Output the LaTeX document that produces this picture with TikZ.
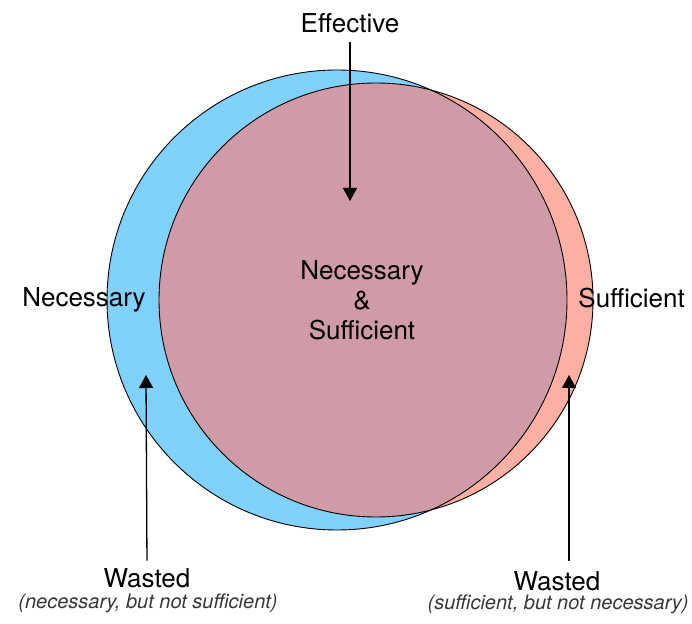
\documentclass[tikz,border=0pt]{standalone}
\usepackage{fontspec}
\setmainfont{TeX Gyre Heros}
\usetikzlibrary{arrows.meta, positioning}
\definecolor{needblue}{RGB}{129, 209, 253}
\definecolor{suffred}{RGB}{254, 176, 164}
\definecolor{bothmauve}{RGB}{207, 155, 167}
\definecolor{notegray}{RGB}{55, 55, 55}

\begin{document}
\begin{tikzpicture}[x=1pt, y=1pt, line width=0.9pt,
  label/.style={font=\fontsize{26}{30}\selectfont, inner sep=0pt},
  note/.style={font=\fontsize{20}{23}\selectfont\itshape, text=notegray, inner sep=0pt},
  pointer/.style={-{Triangle[length=13pt, width=14pt]}, line width=1.3pt}]
  \useasboundingbox (0, 0) rectangle (692, 623);

  % the two sets
  \coordinate (needc) at (337, 323);
  \coordinate (suffc) at (376, 323);
  \fill[needblue] (needc) circle [radius=230];
  \fill[suffred] (suffc) circle [radius=217];
  \begin{scope}
    \clip (needc) circle [radius=230];
    \fill[bothmauve] (suffc) circle [radius=217];
  \end{scope}
  \draw (needc) circle [radius=230];
  \draw (suffc) circle [radius=217];

  % labels
  \node[label, anchor=base] (effective) at (350, 590) {Effective};
  \node[label, anchor=base] (necessary) at (84, 316) {Necessary};
  \node[label, anchor=base west] (sufficient) at (578, 315) {Sufficient};
  \node[label, align=center] (both) at (362, 323) {Necessary\\\&\\Sufficient};

  \node[label, anchor=base] (wasteL) at (147, 36) {Wasted};
  \node[note, anchor=base] (noteL) at (148, 15) {(necessary, but not sufficient)};
  \node[label, anchor=base] (wasteR) at (557, 33) {Wasted};
  \node[note, anchor=base] (noteR) at (558, 14) {(sufficient, but not necessary)};

  % pointers
  \coordinate (efftip) at (350, 422);
  \coordinate (tipL) at (146, 248);
  \coordinate (tipR) at (569, 248);
  \draw[pointer, shorten <=8pt] (effective.south) -- (efftip);
  \draw[pointer, shorten <=7pt] (wasteL.north) -- (tipL);
  \draw[pointer, shorten <=10pt] (tipR |- wasteR.north) -- (tipR);
\end{tikzpicture}
\end{document}
